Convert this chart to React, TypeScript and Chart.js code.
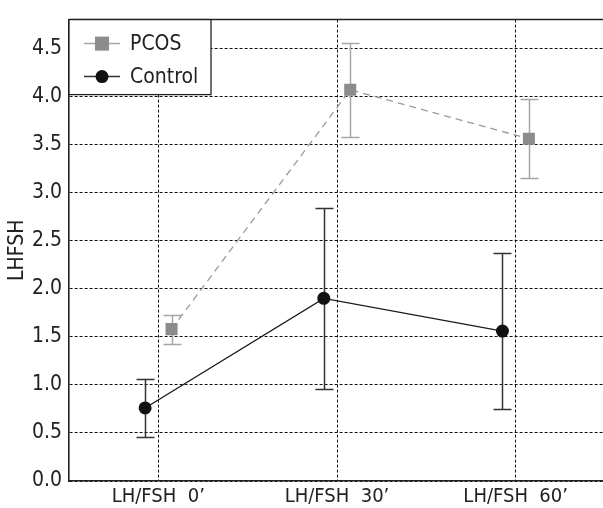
import { useEffect, useRef } from "react";
import { Chart, registerables } from "chart.js";

Chart.register(...registerables);

const categories = ["LH/FSH  0\u2019", "LH/FSH  30\u2019", "LH/FSH  60\u2019"];
const seriesLabels = ["PCOS", "Control"];
const pcosMean = [1.58, 4.07, 3.56];
const pcosErr = [0.15, 0.49, 0.41];
const controlMean = [0.76, 1.9, 1.56];
const controlErr = [0.3, 0.94, 0.81];
const yTicks = [0, 0.5, 1, 1.5, 2, 2.5, 3, 3.5, 4, 4.5];
const yTitle = "LHFSH";

const FONT = "'Liberation Sans Narrow', 'DejaVu Sans Condensed', 'Arial Narrow', sans-serif";
const OFFSET = 0.074;

const errorBars = {
  id: "errorBars",
  beforeDatasetsDraw(chart: any) {
    const { ctx } = chart;
    const x = chart.scales.x;
    const y = chart.scales.y;
    chart.data.datasets.forEach((ds: any) => {
      const errs: number[] = ds.errors;
      ctx.save();
      ctx.strokeStyle = ds.errorColor;
      ctx.lineWidth = ds.errorWidth;
      ds.data.forEach((pt: any, i: number) => {
        const px = Math.round(x.getPixelForValue(pt.x)) + 0.5;
        const top = Math.round(y.getPixelForValue(pt.y + errs[i])) + 0.5;
        const bot = Math.round(y.getPixelForValue(pt.y - errs[i])) + 0.5;
        ctx.beginPath();
        ctx.moveTo(px, top);
        ctx.lineTo(px, bot);
        ctx.moveTo(px - 9, top);
        ctx.lineTo(px + 9, top);
        ctx.moveTo(px - 9, bot);
        ctx.lineTo(px + 9, bot);
        ctx.stroke();
      });
      ctx.restore();
    });
  },
};

const frameAndLegend = {
  id: "frameAndLegend",
  afterDatasetsDraw(chart: any) {
    const { ctx, chartArea } = chart;
    ctx.save();
    // top frame line
    ctx.strokeStyle = "#222";
    ctx.lineWidth = 1.5;
    ctx.beginPath();
    ctx.moveTo(chartArea.left, chartArea.top);
    ctx.lineTo(chartArea.right, chartArea.top);
    ctx.stroke();

    // legend box
    const bx = chartArea.left;
    const by = chartArea.top;
    const bw = 142;
    const bh = 75;
    ctx.fillStyle = "#fff";
    ctx.fillRect(bx, by, bw, bh);
    ctx.strokeStyle = "#222";
    ctx.lineWidth = 1.3;
    ctx.strokeRect(bx, by, bw, bh);

    ctx.font = `21px ${FONT}`;
    ctx.textBaseline = "middle";
    ctx.textAlign = "left";
    chart.data.datasets.forEach((ds: any, i: number) => {
      const cy = by + 24 + i * 33;
      ctx.strokeStyle = ds.legendLineColor;
      ctx.lineWidth = 1.5;
      ctx.setLineDash([]);
      ctx.beginPath();
      ctx.moveTo(bx + 15, cy);
      ctx.lineTo(bx + 51, cy);
      ctx.stroke();
      ctx.fillStyle = ds.pointBackgroundColor;
      if (ds.pointStyle === "rect") {
        ctx.fillRect(bx + 33 - 7, cy - 7, 14, 14);
      } else {
        ctx.beginPath();
        ctx.arc(bx + 33, cy, 6.5, 0, Math.PI * 2);
        ctx.fill();
      }
      ctx.fillStyle = "#222";
      ctx.fillText(ds.label, bx + 61, cy + 1);
    });
    ctx.restore();
  },
};

export default function App() {
  const ref = useRef<HTMLCanvasElement | null>(null);

  useEffect(() => {
    if (!ref.current) return;
    const chart = new Chart(ref.current, {
      type: "line",
      data: {
        datasets: [
          {
            label: seriesLabels[0],
            data: pcosMean.map((v, i) => ({ x: i + OFFSET, y: v })),
            errors: pcosErr,
            errorColor: "#a6a6a6",
            errorWidth: 1.5,
            legendLineColor: "#a6a6a6",
            borderColor: "#9a9a9a",
            borderWidth: 1.3,
            borderDash: [7, 5],
            pointStyle: "rect",
            pointRadius: 8.5,
            pointBackgroundColor: "#8c8c8c",
            pointBorderColor: "#8c8c8c",
            pointBorderWidth: 0,
            tension: 0,
          } as any,
          {
            label: seriesLabels[1],
            data: controlMean.map((v, i) => ({ x: i - OFFSET, y: v })),
            errors: controlErr,
            errorColor: "#333",
            errorWidth: 1.5,
            legendLineColor: "#333",
            borderColor: "#1a1a1a",
            borderWidth: 1.3,
            pointStyle: "circle",
            pointRadius: 6.5,
            pointBackgroundColor: "#111",
            pointBorderColor: "#111",
            pointBorderWidth: 0,
            tension: 0,
          } as any,
        ],
      },
      options: {
        responsive: false,
        animation: false,
        events: [],
        layout: { padding: { left: 0, top: 14, right: 15, bottom: 0 } },
        plugins: {
          legend: { display: false },
          tooltip: { enabled: false },
        },
        scales: {
          x: {
            type: "linear",
            min: -0.5,
            max: 2.5,
            afterBuildTicks: (scale: any) => {
              scale.ticks = categories.map((_, i) => ({ value: i }));
            },
            afterFit: (scale: any) => {
              scale.height = 27;
            },
            ticks: {
              callback: (v: any) => categories[Math.round(Number(v))] ?? "",
              color: "#222",
              font: { family: FONT, size: 20 },
              padding: 4,
              maxRotation: 0,
              autoSkip: false,
            },
            grid: { color: "#111", lineWidth: 1, drawTicks: false },
            border: { color: "#222", width: 1.6, dash: [3, 2] },
          },
          y: {
            type: "linear",
            min: 0,
            max: 4.8,
            afterBuildTicks: (scale: any) => {
              scale.ticks = yTicks.map((v) => ({ value: v }));
            },
            afterFit: (scale: any) => {
              scale.width = 69;
            },
            ticks: {
              callback: (v: any) => Number(v).toFixed(1),
              color: "#222",
              font: { family: FONT, size: 21 },
              padding: 7,
            },
            title: {
              display: true,
              text: yTitle,
              color: "#222",
              font: { family: FONT, size: 21 },
              padding: { top: 5, bottom: 0 },
            },
            grid: { color: "#111", lineWidth: 1, drawTicks: false },
            border: { color: "#222", width: 1.6, dash: [3, 2] },
          },
        },
      } as any,
      plugins: [errorBars, frameAndLegend],
    });
    return () => chart.destroy();
  }, []);

  return (
    <div style={{ position: "fixed", left: 0, top: 0, width: 620, height: 508, background: "#fff" }}>
      <canvas ref={ref} width={620} height={508} style={{ display: "block" }} />
    </div>
  );
}
